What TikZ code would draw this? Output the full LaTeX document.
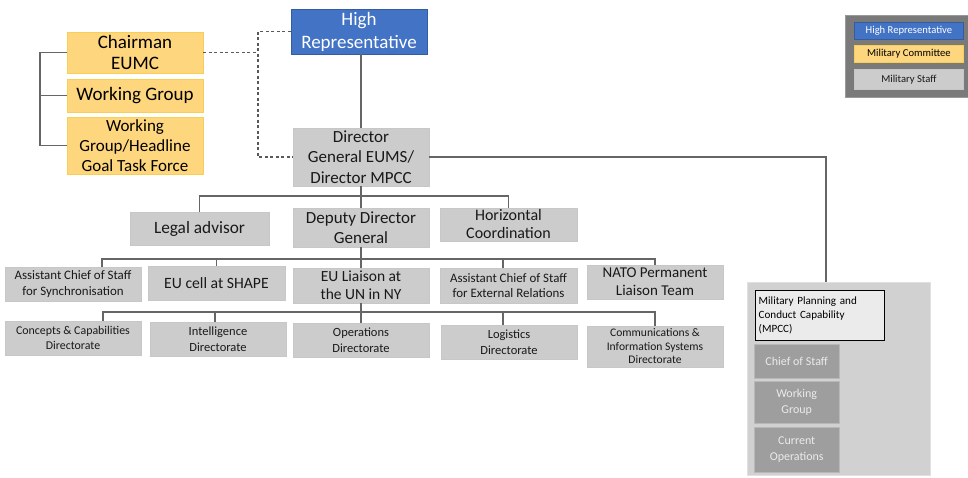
\documentclass[tikz,border=0pt]{standalone}
\usepackage{fontspec}
\setmainfont{Carlito}
\begin{document}
\begin{tikzpicture}[x=1pt,y=-1pt,
  conn/.style={draw=black!60,line width=1.3pt},
  dconn/.style={draw=black!65,line width=1.3pt,dash pattern=on 3pt off 2.5pt},
  gbox/.style={draw=black!22,fill=black!20,line width=0.8pt,align=center,inner sep=1pt,text=black!90},
  mbox/.style={draw=black!28,fill=black!38,align=center,inner sep=1pt,text=black!8,font=\fontsize{12}{16}\selectfont},
]
\definecolor{hrblue}{HTML}{4273C5}
\definecolor{mcyel}{HTML}{FDD67E}
\definecolor{mcyelb}{HTML}{F8CF55}
\tikzset{
  bbox/.style={draw=hrblue!80!black,fill=hrblue,line width=0.8pt,align=center,inner sep=1pt,text=white},
  ybox/.style={draw=mcyelb,fill=mcyel,line width=0.8pt,align=center,inner sep=1pt,text=black},
}
\useasboundingbox (0,0) rectangle (968,478);

% top
\node[bbox,minimum width=136pt,minimum height=45pt,font=\fontsize{19}{23}\selectfont] (hr) at (359,31.5) {High\\Representative};
\node[ybox,minimum width=136pt,minimum height=41pt,font=\fontsize{19}{21.5}\selectfont] (chair) at (135,52.5) {Chairman\\EUMC};
\node[ybox,minimum width=136pt,minimum height=33pt,font=\fontsize{19}{21}\selectfont] (wg) at (135,95.5) {Working Group};
\node[ybox,minimum width=136pt,minimum height=57pt,font=\fontsize{17}{20}\selectfont] (hg) at (135,145.5) {Working\\Group/Headline\\Goal Task Force};
\node[gbox,minimum width=136pt,minimum height=58pt,font=\fontsize{17}{20.5}\selectfont] (dg) at (361,157) {Director\\General EUMS/\\Director MPCC};

% row 2
\node[gbox,minimum width=139pt,minimum height=33pt,font=\fontsize{17.3}{20}\selectfont] (legal) at (199.5,228.5) {Legal advisor};
\node[gbox,minimum width=136pt,minimum height=39pt,font=\fontsize{17}{20.5}\selectfont] (ddg) at (361,227.5) {Deputy Director\\General};
\node[gbox,minimum width=137pt,minimum height=33pt,font=\fontsize{16}{18}\selectfont] (hc) at (508.5,224.5) {Horizontal\\Coordination};

% row 3
\node[gbox,minimum width=136pt,minimum height=34pt,font=\fontsize{12.9}{15.5}\selectfont] (acs) at (73,284) {Assistant Chief of Staff\\for Synchronisation};
\node[gbox,minimum width=137pt,minimum height=34pt,font=\fontsize{15.7}{18}\selectfont] (shape) at (216.5,283) {EU cell at SHAPE};
\node[gbox,minimum width=136pt,minimum height=35pt,font=\fontsize{15.5}{18}\selectfont] (un) at (361,285.5) {EU Liaison at\\the UN in NY};
\node[gbox,minimum width=137pt,minimum height=35pt,font=\fontsize{12.9}{15.5}\selectfont] (acer) at (508.5,285.5) {Assistant Chief of Staff\\for External Relations};
\node[gbox,minimum width=136pt,minimum height=34pt,font=\fontsize{15}{18}\selectfont] (nato) at (655,282) {NATO Permanent\\Liaison Team};

% row 4
\node[gbox,minimum width=136pt,minimum height=34pt,font=\fontsize{11.9}{15}\selectfont] (cc) at (73,338) {Concepts \& Capabilities\\Directorate};
\node[gbox,minimum width=136pt,minimum height=34pt,font=\fontsize{12.5}{15.5}\selectfont] (intel) at (218,339) {Intelligence\\Directorate};
\node[gbox,minimum width=136pt,minimum height=34pt,font=\fontsize{12.5}{15.5}\selectfont] (ops) at (361,340) {Operations\\Directorate};
\node[gbox,minimum width=136pt,minimum height=34pt,font=\fontsize{12.5}{15.5}\selectfont] (log) at (509,342) {Logistics\\Directorate};
\node[gbox,minimum width=136pt,minimum height=41pt,font=\fontsize{11.6}{13.5}\selectfont] (cis) at (655,346.5) {Communications \&\\Information Systems\\Directorate};

% MPCC panel
\node[draw=black!12,fill=black!18,line width=0.8pt,minimum width=183pt,minimum height=193pt,inner sep=0pt] (panel) at (838.5,378.5) {};
\node[draw=black,fill=black!8,line width=1.4pt,minimum width=129pt,minimum height=50pt,align=left,inner sep=3pt,font=\fontsize{11.1}{14}\selectfont,anchor=north west,text width=123pt] (mpcc) at (755,290) {Military Planning and\\Conduct Capability\\(MPCC)};
\node[mbox,minimum width=85pt,minimum height=34pt,anchor=north west] (cos) at (754,344) {Chief of Staff};
\node[mbox,minimum width=85pt,minimum height=42pt,anchor=north west] (mwg) at (754,381) {Working\\Group};
\node[mbox,minimum width=85pt,minimum height=45pt,anchor=north west] (cur) at (754,427) {Current\\Operations};

% legend
\node[draw=black!40,fill=black!52,line width=0.8pt,minimum width=123pt,minimum height=82pt,inner sep=0pt,anchor=north west] (leg) at (845,15) {};
\node[bbox,minimum width=109pt,minimum height=17pt,font=\fontsize{10.6}{12}\selectfont,anchor=north west] (lhr) at (854,22) {High Representative};
\node[ybox,minimum width=109pt,minimum height=17pt,font=\fontsize{10.6}{12}\selectfont,anchor=north west] (lmc) at (854,45) {Military Committee};
\node[gbox,minimum width=109pt,minimum height=20pt,font=\fontsize{10.6}{12}\selectfont,anchor=north west] (lms) at (854,69) {Military Staff};

% connectors
\coordinate (lb) at (40,0);
\draw[conn] (chair.west) -- (chair.west -| lb) -- (hg.west -| lb) -- (hg.west);
\draw[conn] (wg.west) -- (wg.west -| lb);

\coordinate (dv) at (258,0);
\draw[dconn] (chair.east) -- (chair.east -| dv);
\draw[dconn] (hr.west) -- (hr.west -| dv) -- (dg.west -| dv) -- (dg.west);

\draw[conn] (hr.south -| dg.north) -- (dg.north);

\coordinate (mx) at (826,0);
\draw[conn] (dg.east) -- (dg.east -| mx) -- (panel.north -| mx);

\coordinate (bus1) at (361,196);
\draw[conn] (dg.south) -- (bus1);
\draw[conn] (legal.north) |- (bus1) -| (hc.north);
\draw[conn] (bus1) -- (ddg.north);

\coordinate (bus2) at (361,259);
\draw[conn] (ddg.south) -- (bus2);
\draw[conn] (acs.north -| 102,0) |- (bus2) -| (nato.north);
\draw[conn] (shape.north) -- (shape.north |- bus2);
\draw[conn] (bus2) -- (un.north);
\draw[conn] (acer.north -| 503,0) -- (bus2 -| 503,0);

\coordinate (bus3) at (361,312);
\draw[conn] (un.south) -- (bus3);
\draw[conn] (cc.north -| 103,0) |- (bus3) -| (cis.north);
\draw[conn] (intel.north -| 215,0) -- (bus3 -| 215,0);
\draw[conn] (bus3) -- (ops.north);
\draw[conn] (log.north -| 503,0) -- (bus3 -| 503,0);
\end{tikzpicture}
\end{document}
